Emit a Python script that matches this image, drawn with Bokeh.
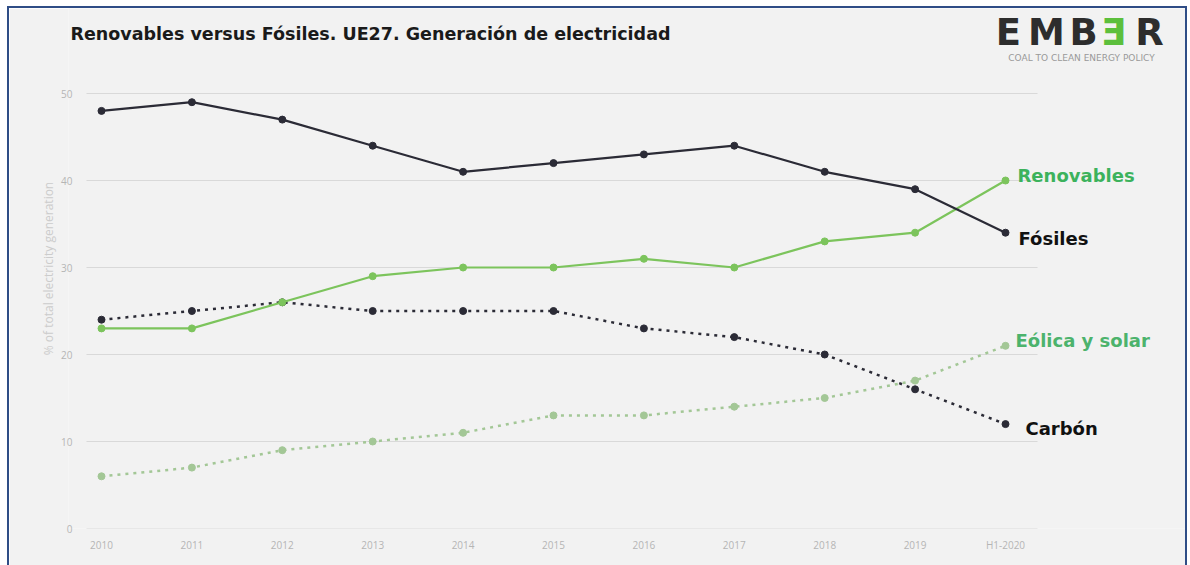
from bokeh.plotting import figure
from bokeh.models import Range1d, Label, FixedTicker
from bokeh.embed import file_html
from bokeh.resources import INLINE

# ---- data ----
years = ["2010", "2011", "2012", "2013", "2014", "2015", "2016", "2017", "2018", "2019", "H1-2020"]
fosiles = [48, 49, 47, 44, 41, 42, 43, 44, 41, 39, 34]
renovables = [23, 23, 26, 29, 30, 30, 31, 30, 33, 34, 40]
carbon = [24, 25, 26, 25, 25, 25, 23, 22, 20, 16, 12]
eolica_solar = [6, 7, 9, 10, 11, 13, 13, 14, 15, 17, 21]
y_ticks = [0, 10, 20, 30, 40, 50]
series_names = ["Renovables", "Fósiles", "Eólica y solar", "Carbón"]
title_text = "Renovables versus Fósiles. UE27. Generación de electricidad"
y_label = "% of total electricity generation"

xs = list(range(len(years)))

BG = "#f2f2f2"
DARK = "#2b2b36"
GREEN = "#7cc45c"
GREEN_LIGHT = "#a3c796"
GREEN_TXT = "#3cb25c"

# layout constants (pixels)
FRAME_W, FRAME_H = 1117, 520
PX_PER_X, PX_PER_Y = 90.4, 8.7
LEFT_PAD_PX = 33          # frame left edge to first category
GRID_L_PX, GRID_R_PX = 15, 32

x0 = -LEFT_PAD_PX / PX_PER_X
x1 = x0 + FRAME_W / PX_PER_X
p = figure(frame_width=FRAME_W, frame_height=FRAME_H, output_backend="svg", toolbar_location=None,
           x_range=Range1d(x0, x1), y_range=Range1d(0, FRAME_H / PX_PER_Y),
           min_border_left=59, min_border_right=0, min_border_top=0, min_border_bottom=37)
p.styles = {"margin-top": "6px", "margin-left": "7px",
            "border-top": "2px solid #2f4d86", "border-left": "2px solid #2f4d86",
            "border-right": "2px solid #2f4d86"}
p.background_fill_color = BG
p.border_fill_color = BG
p.outline_line_color = None

# axes
p.xaxis.ticker = FixedTicker(ticks=xs)
p.xaxis.major_label_overrides = {i: y for i, y in enumerate(years)}
p.yaxis.ticker = FixedTicker(ticks=y_ticks)
for ax in (p.xaxis[0], p.yaxis[0]):
    ax.axis_line_color = None
    ax.major_tick_line_color = None
    ax.minor_tick_line_color = None
    ax.major_label_text_color = "#b5b5b5"
    ax.major_label_text_font = "Open Sans"
    ax.major_label_text_font_size = "10px"
p.xaxis.major_label_standoff = 3
p.yaxis.major_label_standoff = -10
p.yaxis.axis_label = y_label
p.yaxis.axis_label_text_color = "#cccccc"
p.yaxis.axis_label_text_font = "Open Sans"
p.yaxis.axis_label_text_font_size = "12px"
p.yaxis.axis_label_text_font_style = "normal"
p.yaxis.axis_label_standoff = 1

# horizontal grid limited to the data area
p.xgrid.grid_line_color = None
p.ygrid.grid_line_color = None
gx0 = -GRID_L_PX / PX_PER_X
gx1 = xs[-1] + GRID_R_PX / PX_PER_X
p.segment(x0=[gx0] * len(y_ticks), y0=y_ticks, x1=[gx1] * len(y_ticks), y1=y_ticks,
          line_color="#d9d9d9", line_width=1)

# series
p.line(xs, eolica_solar, line_color=GREEN_LIGHT, line_width=2.5, line_dash="3 5")
p.scatter(xs, eolica_solar, size=7, fill_color=GREEN_LIGHT, line_color=GREEN_LIGHT)
p.line(xs, carbon, line_color=DARK, line_width=2.5, line_dash="3 5")
p.scatter(xs, carbon, size=7, fill_color=DARK, line_color=DARK)
p.line(xs, renovables, line_color=GREEN, line_width=2.2)
p.scatter(xs, renovables, size=7, fill_color=GREEN, line_color=GREEN)
p.line(xs, fosiles, line_color=DARK, line_width=2.2)
p.scatter(xs, fosiles, size=7, fill_color=DARK, line_color=DARK)

# end labels
last = len(years) - 1
end_vals = [renovables[last], fosiles[last], eolica_solar[last], carbon[last]]
end_cols = [GREEN_TXT, "#111111", "#4cb36c", "#111111"]
end_dx = [12, 13, 10, 20]
end_dy = [5, -6, 5, -4]
for name, v, c, dx, dy in zip(series_names, end_vals, end_cols, end_dx, end_dy):
    p.add_layout(Label(x=last, y=v, text=name, x_offset=dx, y_offset=dy,
                       text_color=c, text_font="DejaVu Sans", text_font_style="bold",
                       text_font_size="18px", text_baseline="middle"))

# title
p.add_layout(Label(x=2, y=495, x_units="screen", y_units="screen", text=title_text,
                   text_font="DejaVu Sans", text_font_style="bold", text_font_size="17.5px",
                   text_color="#1a1a1a", text_baseline="middle"))

# logo
logo_letters = ["E", "M", "B", "Ǝ", "R"]
logo_x = [940, 978, 1015, 1045, 1081]
logo_cols = ["#2d2d2d", "#2d2d2d", "#2d2d2d", "#5cbf3c", "#2d2d2d"]
for t, lx, lc in zip(logo_letters, logo_x, logo_cols):
    p.add_layout(Label(x=lx, y=496, x_units="screen", y_units="screen", text=t,
                       text_font="DejaVu Sans", text_font_style="bold", text_font_size="37px",
                       text_color=lc, text_align="center", text_baseline="middle"))
p.add_layout(Label(x=1013, y=471, x_units="screen", y_units="screen",
                   text="COAL TO CLEAN ENERGY POLICY", text_font="DejaVu Sans",
                   text_font_size="9px", text_color="#999999", text_align="center",
                   text_baseline="middle"))

open("out.html", "w").write(file_html(p, INLINE))
